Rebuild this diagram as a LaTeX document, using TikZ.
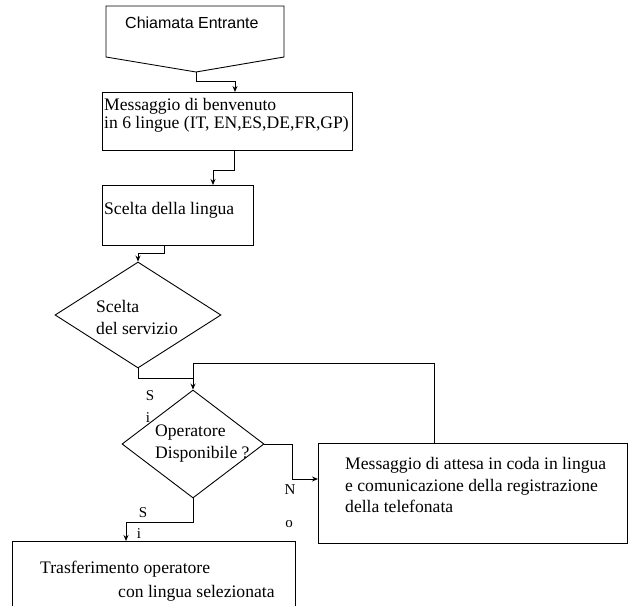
\documentclass[tikz,border=0pt]{standalone}
\usepackage{fontspec}
\setmainfont{Liberation Serif}
\newfontfamily\sansf{Liberation Sans}
\usetikzlibrary{shapes.geometric,arrows.meta}
\begin{document}
\begin{tikzpicture}[x=1pt,y=-1pt,
  ln/.style={line width=0.9pt},
  arr/.style={ln, -{Stealth[length=6pt,width=5pt]}},
  box/.style={draw, ln, rectangle, inner sep=0pt},
  dia/.style={draw, ln, diamond, inner sep=0pt},
  txt/.style={anchor=base west, inner sep=0pt, font=\fontsize{17.6}{21}\selectfont},
  lbl/.style={anchor=base, inner sep=0pt, font=\fontsize{15}{18}\selectfont}]
\useasboundingbox (0,0) rectangle (629,605);
\clip (0,0) rectangle (629,605);

% start shape
\draw[ln] (106,6) -- (284,6) -- (284,57) -- (196,72) -- (106,57) -- cycle;
\coordinate (p) at (196,72);
\node[anchor=base west, inner sep=0pt, font=\sansf\fontsize{16}{19}\selectfont] (t0) at (125,28) {Chiamata Entrante};

% boxes
\node[box, minimum width=250pt, minimum height=58pt] (b2) at (227,121) {};
\node[box, minimum width=151pt, minimum height=60pt] (b3) at (177.5,215) {};
\node[box, minimum width=309pt, minimum height=100pt] (b4) at (472.5,493) {};
\node[box, minimum width=283pt, minimum height=98pt] (b5) at (153.5,590) {};

% diamonds
\node[dia, minimum width=166pt, minimum height=106pt] (d1) at (138,315) {};
\node[dia, minimum width=142pt, minimum height=108pt] (d2) at (193,444) {};

% texts
\node[txt] (t2a) at (104,110) {Messaggio di benvenuto};
\node[txt] (t2b) at (104,128) {in 6 lingue (IT, EN,ES,DE,FR,GP)};
\node[txt] (t3) at (104,214) {Scelta della lingua};
\node[txt] (t4a) at (96,312) {Scelta};
\node[txt] (t4b) at (96,334) {del servizio};
\node[txt] (t5a) at (155,436) {Operatore};
\node[txt] (t5b) at (155,458) {Disponibile ?};
\node[txt] (t6a) at (345,469) {Messaggio di attesa in coda in lingua};
\node[txt] (t6b) at (345,491) {e comunicazione della registrazione};
\node[txt] (t6c) at (345,512) {della telefonata};
\node[txt] (t7a) at (40,573) {Trasferimento operatore};
\node[txt] (t7b) at (118,597) {con lingua selezionata};

% connectors
\coordinate (b2top) at (235,92);
\draw[arr] (p) -- (196,81) -| (b2top);
\coordinate (b2bot) at (234,150);
\coordinate (b3top) at (213,185);
\draw[arr] (b2bot) -- (234,170) -| (b3top);
\coordinate (b3bot) at (164,245);
\draw[arr] (b3bot) -- (164,253) -| (d1.north);
\coordinate (j) at (193,378);
\draw[ln] (d1.south) |- (j);
\coordinate (b4top) at (434,443);
\draw[arr] (b4top) |- (193,363) -- (d2.north);
\coordinate (b4in) at (318,479);
\draw[arr] (d2.east) -| (292,479) -- (b4in);
\coordinate (b5top) at (126,541);
\draw[arr] (d2.south) |- (126,522) -- (b5top);

% labels
\node[lbl] (s1) at (150,400) {S};
\node[lbl] (i1) at (148,422) {i};
\node[lbl] (n1) at (290,494) {N};
\node[lbl] (o1) at (289,527) {o};
\node[lbl] (s2) at (143,517) {S};
\node[lbl] (i2) at (139,538) {i};
\end{tikzpicture}
\end{document}
